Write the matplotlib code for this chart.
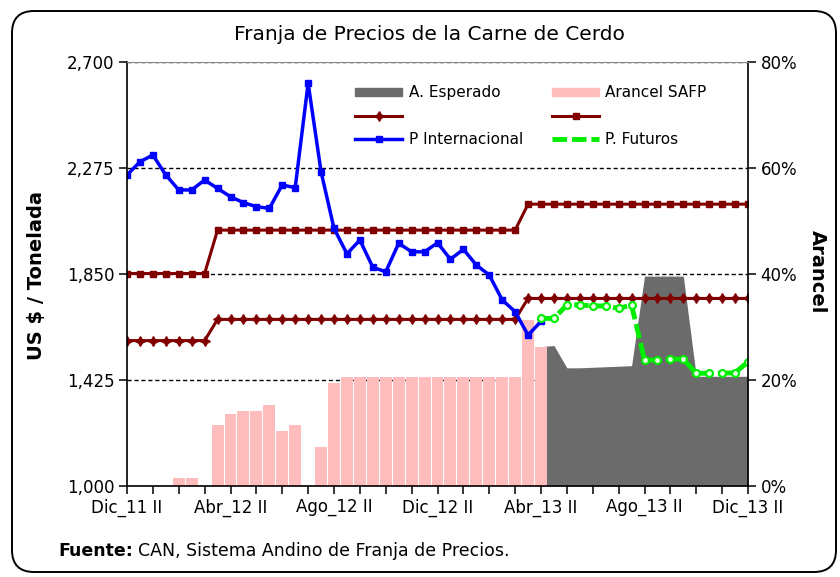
import matplotlib
matplotlib.use("Agg")
import matplotlib.pyplot as plt
import matplotlib.patches as mpatches
import matplotlib.transforms as mtransforms
from matplotlib.lines import Line2D
from matplotlib.ticker import FuncFormatter

# Data (biweekly periods, Dic_11 II .. Dic_13 II)
periodos = list(range(49))
tick_labels = ["Dic_11 II", "Abr_12 II", "Ago_12 II", "Dic_12 II",
               "Abr_13 II", "Ago_13 II", "Dic_13 II"]

# US$ / t
p_internacional = [2247, 2300, 2327, 2247, 2187, 2187, 2227, 2193, 2160, 2136,
                   2120, 2113, 2207, 2196, 2615, 2260, 2033, 1931, 1986, 1877,
                   1859, 1973, 1939, 1939, 1975, 1909, 1949, 1886, 1846, 1746,
                   1699, 1605, 1660]
precio_techo = [1852] * 7 + [2026] * 24 + [2130] * 18
precio_piso = [1583] * 7 + [1668] * 24 + [1752] * 18
p_futuros = [1672, 1672, 1726, 1726, 1722, 1722, 1712, 1726, 1505, 1505,
             1509, 1509, 1452, 1452, 1452, 1454, 1498]

# Arancel (%)
arancel_safp = [0, 0, 0, 0, 1.5, 1.5, 0, 11.5, 13.6, 14.2, 14.2, 15.3, 10.4,
                11.5, 0, 7.4, 19.4, 20.5, 20.5, 20.5, 20.5, 20.5, 20.5, 20.5,
                20.5, 20.5, 20.5, 20.5, 20.5, 20.5, 20.5, 31.4, 26.3]
a_esperado = [26.3, 26.5, 22.3, 22.3, 22.4, 22.5, 22.6, 22.7, 39.6, 39.6,
              39.6, 39.6, 20.7, 20.7, 20.7, 20.7, 20.7]

x_int = periodos[:len(p_internacional)]
x_fut = periodos[-len(p_futuros):]
x_ar = periodos[:len(arancel_safp)]
x_esp = periodos[-len(a_esperado):]

W, H = 840, 577
fig = plt.figure(figsize=(W / 100, H / 100), dpi=100)

# rounded chart border
border = mpatches.FancyBboxPatch((12, 5), 824, 561,
                                 boxstyle="round,pad=0,rounding_size=22",
                                 transform=mtransforms.IdentityTransform(),
                                 facecolor="none", edgecolor="black", lw=1.4)
fig.add_artist(border)

ax1 = fig.add_axes([127 / W, 1 - 486 / H, (748 - 127) / W, (486 - 62) / H])
ax2 = ax1.twinx()
ax1.set_zorder(ax2.get_zorder() + 1)
ax1.patch.set_visible(False)

# right axis: arancel
ax2.set_axisbelow(True)
ax2.grid(axis="y", color="black", ls=(0, (3, 2)), lw=1)
ax2.fill_between(x_esp, 0, a_esperado, color="#6b6b6b", lw=0, zorder=2)
ax2.bar(x_ar, arancel_safp, width=0.92, color="#ffbcbc", lw=0, zorder=3)
ax2.set_ylim(0, 80)
ax2.set_yticks([0, 20, 40, 60, 80])
ax2.yaxis.set_major_formatter(FuncFormatter(lambda v, p: f"{v:.0f}%"))
for s in ax2.spines.values():
    s.set_visible(False)

# left axis: prices
ax1.plot(periodos, precio_techo, color="#800000", lw=2.2, marker="s", ms=4.5)
ax1.plot(periodos, precio_piso, color="#800000", lw=2.2, marker=(4, 1, 0), ms=7)
ax1.plot(x_int, p_internacional, color="#0000ff", lw=2.5, marker="s", ms=4.5)
ax1.plot(x_fut, p_futuros, color="#00ee00", lw=3.5, ls=(0, (3, 1)),
         marker="o", ms=5, mfc="#e6ffe6", mec="#00ee00", mew=1.5)
ax1.set_ylim(1000, 2700)
ax1.set_yticks([1000, 1425, 1850, 2275, 2700])
ax1.yaxis.set_major_formatter(FuncFormatter(lambda v, p: f"{v:,.0f}"))
ax1.set_xlim(0, 48)
ax1.set_xticks(periodos[::2])
ax1.set_xticklabels([tick_labels[i // 4] if i % 4 == 0 else "" for i in range(25)])

ax1.spines["top"].set_color("#8c8c8c")
for side in ["left", "right", "bottom"]:
    ax1.spines[side].set_color("black")
    ax1.spines[side].set_linewidth(1.2)

for ax in (ax1, ax2):
    ax.tick_params(direction="out", length=6, width=1.1, labelsize=12,
                   colors="black", pad=3)

# legend
handles = [
    mpatches.Patch(color="#6b6b6b"),
    Line2D([], [], color="#800000", lw=2.2, marker=(4, 1, 0), ms=7),
    Line2D([], [], color="#0000ff", lw=2.5, marker="s", ms=4.5),
    mpatches.Patch(color="#ffbcbc"),
    Line2D([], [], color="#800000", lw=2.2, marker="s", ms=4.5),
    Line2D([], [], color="#00ee00", lw=3.5, ls=(0, (3, 1))),
]
labels = ["A. Esperado", " ", "P Internacional", "Arancel SAFP", " ", "P. Futuros"]
ax1.legend(handles, labels, ncol=2, frameon=False, fontsize=11,
           loc="upper left", bbox_to_anchor=(0.355, 0.963),
           handlelength=3.1, handleheight=0.4, handletextpad=0.4,
           columnspacing=1.9, labelspacing=0.55, borderpad=0)

fig.text(429 / W, 1 - 35 / H, "Franja de Precios de la Carne de Cerdo",
         ha="center", va="center", fontsize=14.5)
fig.text(37 / W, 1 - 276 / H, "US $ / Tonelada", rotation=90, ha="center",
         va="center", fontsize=14, fontweight="bold")
fig.text(817 / W, 1 - 272 / H, "Arancel", rotation=270, ha="center",
         va="center", fontsize=14, fontweight="bold")

# footer
t = fig.text(58 / W, 1 - 551 / H, "Fuente:", fontsize=12.5, fontweight="bold",
             va="center")
fig.canvas.draw()
bb = t.get_window_extent()
fig.text((bb.x1 + 5) / W, 1 - 551 / H, "CAN, Sistema Andino de Franja de Precios.",
         fontsize=12.5, va="center")

fig.savefig("out.png", dpi=100)
